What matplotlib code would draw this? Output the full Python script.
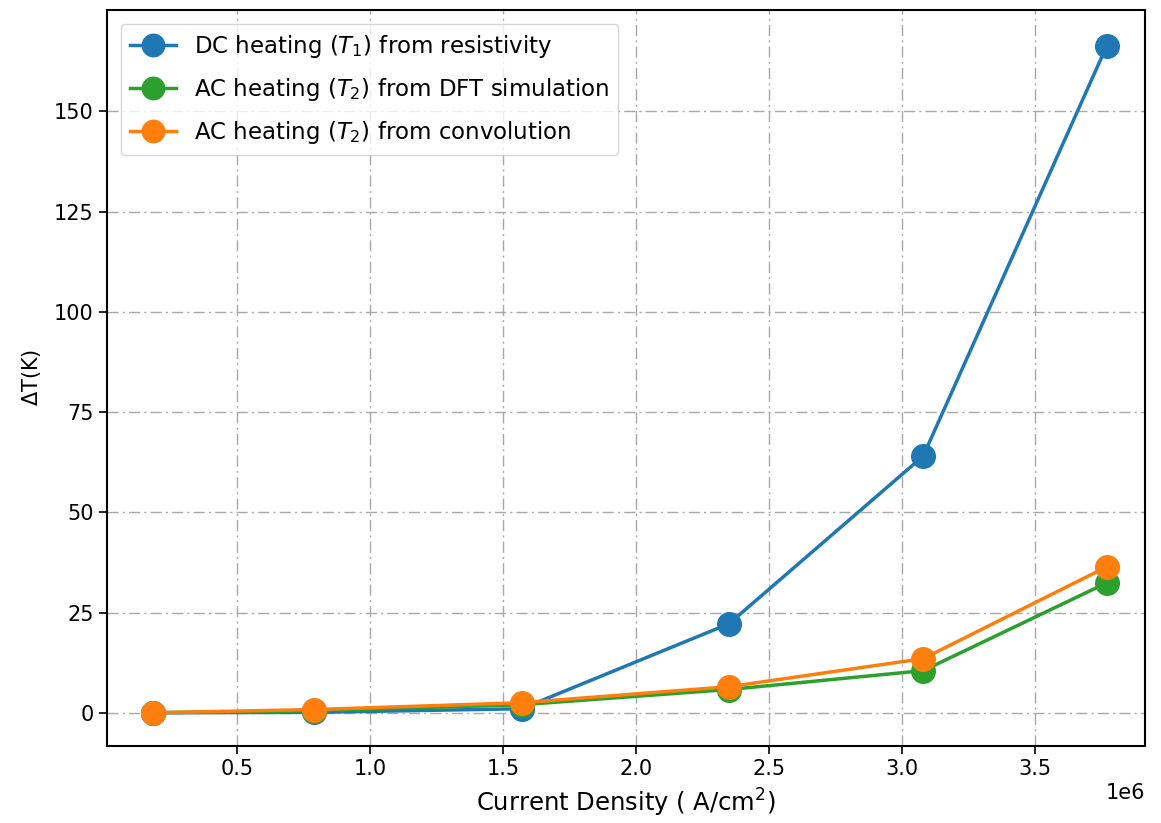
import matplotlib
matplotlib.use("Agg")
import matplotlib.pyplot as plt

current_density = [0.184e6, 0.79e6, 1.57e6, 2.35e6, 3.08e6, 3.77e6]
dc_heating = [0.0, 0.1, 1.0, 22.2, 64.0, 166.3]
ac_dft = [0.0, 0.5, 2.0, 5.8, 10.5, 32.4]
ac_conv = [0.0, 0.8, 2.5, 6.5, 13.5, 36.4]

labels = [r"DC heating ($T_1$) from resistivity",
          r"AC heating ($T_2$) from DFT simulation",
          r"AC heating ($T_2$) from convolution"]

fig = plt.figure(figsize=(11.61, 8.23), dpi=100)
ax = fig.add_axes([0.092, 0.094, 0.894, 0.894])

ax.plot(current_density, dc_heating, "-o", color="#1f77b4", lw=2.5, ms=17, label=labels[0])
ax.plot(current_density, ac_dft, "-o", color="#2ca02c", lw=2.5, ms=17, label=labels[1])
ax.plot(current_density, ac_conv, "-o", color="#ff7f0e", lw=2.5, ms=17, label=labels[2])

ax.set_xlim(0.011e6, 3.913e6)
ax.set_ylim(-8.2, 175.3)
ax.set_yticks([0, 25, 50, 75, 100, 125, 150])
ax.grid(True, linestyle=(0, (8, 3, 1.5, 3)), color="#a8a8a8", lw=1.0)
ax.tick_params(labelsize=15, length=6, width=1.2)
for s in ax.spines.values():
    s.set_linewidth(1.5)
ax.xaxis.get_offset_text().set_fontsize(15)
ax.set_xlabel(r"Current Density ( A/cm$^2$)", fontsize=17.5, labelpad=6)
ax.set_ylabel(r"$\Delta$T(K)", fontsize=15, labelpad=8)
ax.legend(loc="upper left", fontsize=16.5, markerscale=0.95, borderaxespad=0.6,
          labelspacing=0.7)

fig.savefig("out.png", dpi=100)
